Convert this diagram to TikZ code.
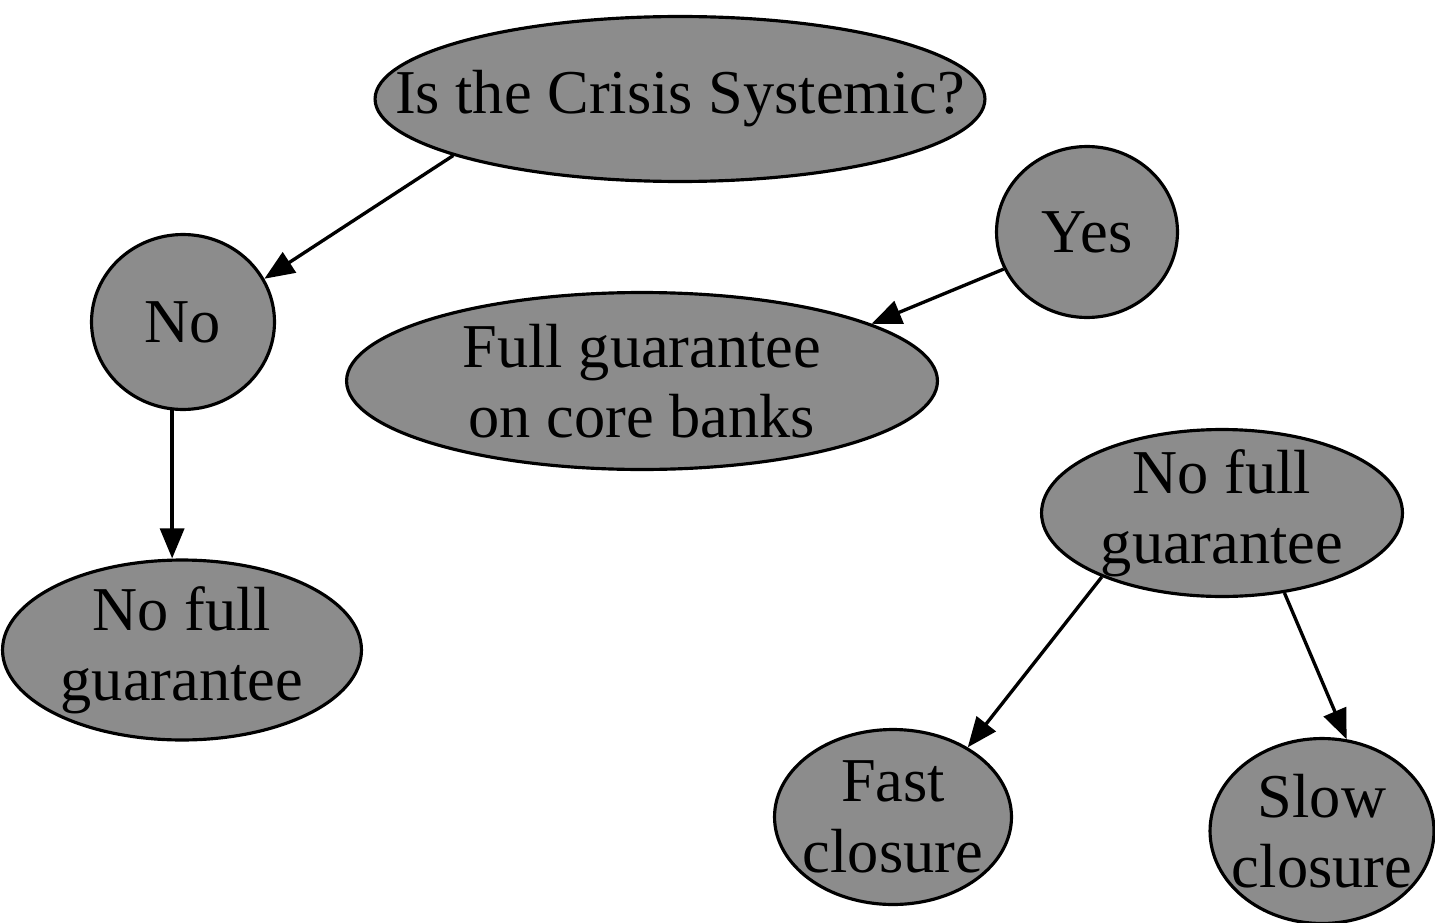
\documentclass[tikz,border=0pt]{standalone}
\usepackage{fontspec}
\setmainfont{Liberation Serif}
\usetikzlibrary{arrows.meta}
\usetikzlibrary{shapes.geometric}
\tikzset{
	>={Triangle[length=0.6cm,width=0.48cm]},
	bubble/.style={
		ellipse,
		draw=black, line width=1.8pt,
		fill=black!45,
		% negative inner sep, so that only the minimum size counts
		inner sep=-3cm,
		align=center,
		font=\fontsize{35.5}{40}\selectfont},
	line/.style={draw, line width=1.9pt, ->},
}
\begin{document}
\begin{tikzpicture}[x=0.02cm, y=-0.02cm]
	\useasboundingbox (0,0) rectangle (1435,922);
	\node[bubble, minimum width=12.2cm, minimum height=3.3cm] (crisis) at (680,99) {Is the Crisis Systemic?};
	\node[bubble, minimum width=3.66cm, minimum height=3.5cm] (no) at (183,322) {No};
	\node[bubble, minimum width=3.62cm, minimum height=3.42cm] (yes) at (1087,232) {Yes};
	\node[bubble, minimum width=11.82cm, minimum height=3.54cm] (core) at (642,381) {Full guarantee\\on core banks};
	\node[bubble, minimum width=7.18cm, minimum height=3.6cm] (nofulleins) at (182,650) {No full\\guarantee};
	\node[bubble, minimum width=7.22cm, minimum height=3.34cm] (nofullzwei) at (1222,513) {No full\\guarantee};
	\node[bubble, minimum width=4.74cm, minimum height=3.5cm] (fast) at (893,817) {Fast\\closure};
	\node[bubble, minimum width=4.48cm, minimum height=3.7cm] (slow) at (1322,831) {Slow\\closure};

	\path[line] (crisis.194) -- (no.28);
	\path[line] (no.263) -- (no.263 |- nofulleins.north);
	\path[line] (yes.204) -- (core.14);
	\path[line] (nofullzwei.208) -- (fast.43);
	\path[line] (nofullzwei.308) -- (slow.75);
\end{tikzpicture}
\end{document}
